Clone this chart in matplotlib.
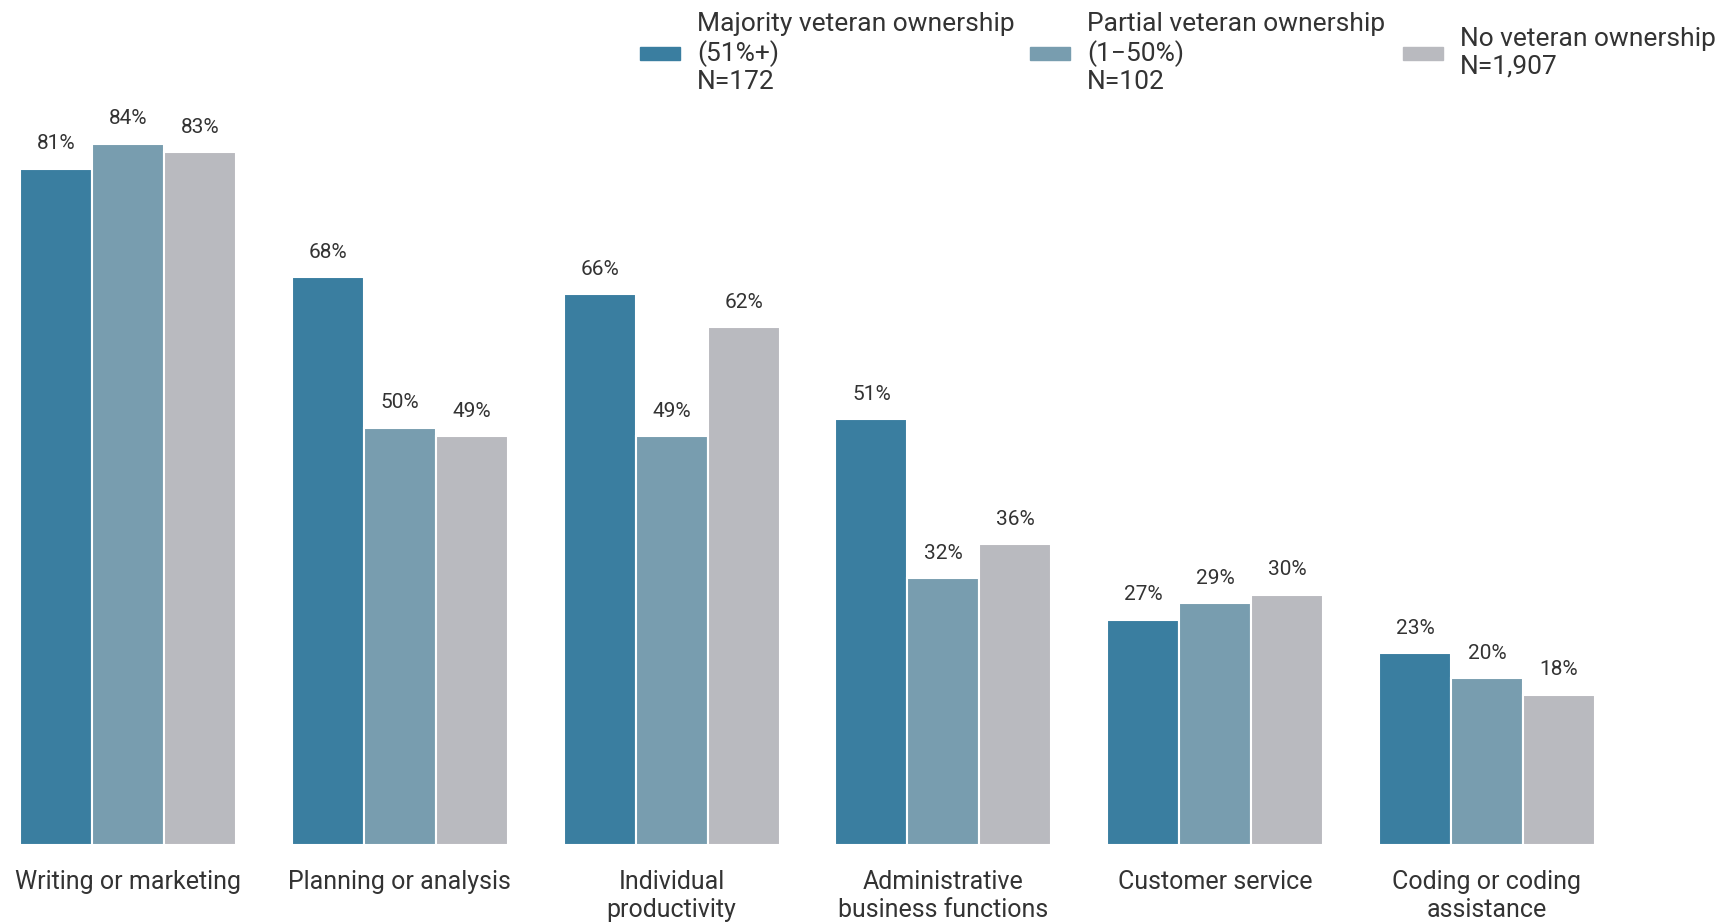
import numpy as np
import matplotlib
matplotlib.use("Agg")
import matplotlib.pyplot as plt
from matplotlib.patches import Rectangle

plt.rcParams["font.family"] = ["Roboto", "DejaVu Sans"]

categories = ["Writing or marketing", "Planning or analysis", "Individual\nproductivity",
              "Administrative\nbusiness functions", "Customer service", "Coding or coding\nassistance"]
series_names = ["Majority veteran ownership\n(51%+)\nN=172",
                "Partial veteran ownership\n(1\u221250%)\nN=102",
                "No veteran ownership\nN=1,907"]
majority = [81, 68, 66, 51, 27, 23]
partial = [84, 50, 49, 32, 29, 20]
no_vet = [83, 49, 62, 36, 30, 18]

COULEURS = ["#3a7ea0", "#789daf", "#b9babf"]
TEXTE = "#333333"

fig = plt.figure(figsize=(17.32, 9.23), dpi=100)
ax = fig.add_axes([20 / 1732, 78 / 923, 1575 / 1732, 835 / 923])

x = np.arange(len(categories))
w = 0.265
for i, (vals, col) in enumerate(zip([majority, partial, no_vet], COULEURS)):
    pos = x + (i - 1) * w
    bars = ax.bar(pos, vals, width=w, color=col, edgecolor="white", linewidth=1.5)
    for b, v in zip(bars, vals):
        ax.annotate(f"{v}%", (b.get_x() + b.get_width() / 2, v), xytext=(0, 11),
                    textcoords="offset points", ha="center", va="bottom",
                    fontsize=15, color=TEXTE)

ax.set_xlim(-1.5 * w, 5 + 1.5 * w)
ax.set_ylim(0, 100)
ax.set_yticks([])
ax.set_xticks(x)
ax.set_xticklabels(categories, fontsize=18, color=TEXTE, va="top", linespacing=1.2)
ax.tick_params(axis="x", length=0, pad=18)
for s in ax.spines.values():
    s.set_visible(False)

# Légende manuelle
leg_x = [640, 1030, 1403]
for name, col, lx in zip(series_names, COULEURS, leg_x):
    fig.patches.append(Rectangle((lx / 1732, 1 - 60 / 923), 40 / 1732, 13 / 923,
                                 transform=fig.transFigure, color=col))
    fig.text((lx + 57) / 1732, 1 - 53 / 923, name, fontsize=19, color=TEXTE,
             va="center", ha="left", linespacing=1.2)

fig.savefig("out.png", dpi=100)
